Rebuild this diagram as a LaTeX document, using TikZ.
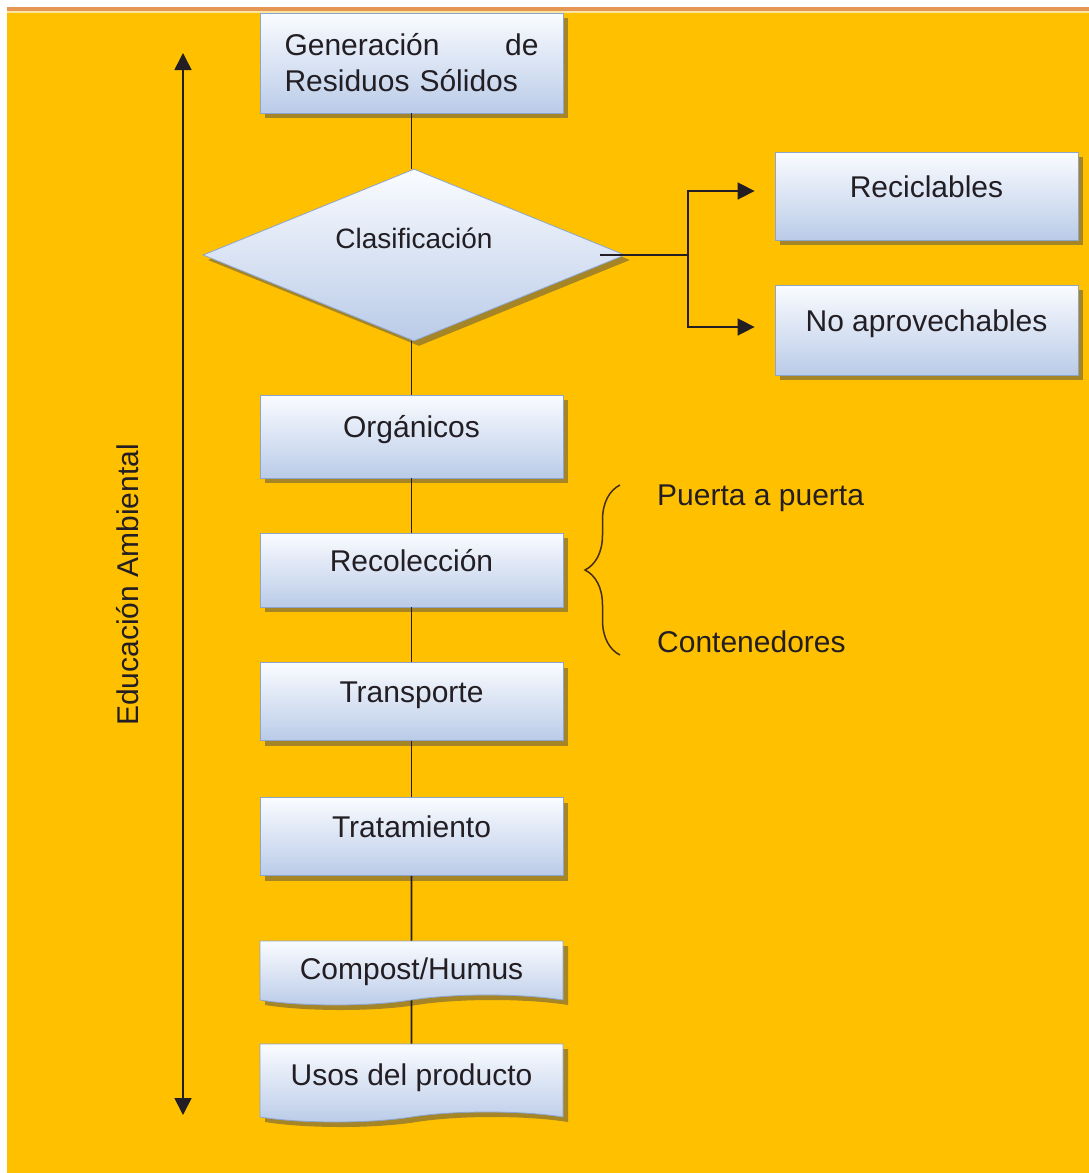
\documentclass[tikz,border=0pt]{standalone}
\usepackage{fontspec}
\setmainfont{Liberation Sans}
\usetikzlibrary{arrows.meta, shapes.geometric, shapes.symbols, shadows, decorations.pathreplacing}
\definecolor{bgyellow}{RGB}{255,192,0}
\definecolor{bandorange}{RGB}{228,150,82}
\definecolor{bandpale}{RGB}{250,228,160}
\definecolor{boxtop}{RGB}{250,252,255}
\definecolor{boxbottom}{RGB}{186,203,232}
\definecolor{boxedge}{RGB}{140,165,205}
\definecolor{inkdark}{RGB}{35,30,35}
\definecolor{bracebrown}{RGB}{70,45,20}
\tikzset{
    box/.style={rectangle, draw=boxedge, line width=0.8pt, top color=boxtop, bottom color=boxbottom, drop shadow={shadow xshift=5pt, shadow yshift=-5pt, opacity=0.5, fill=black!70}, minimum width=303pt, text=inkdark, font=\fontsize{30}{36}\selectfont},
    stepbox/.style={box, text height=22pt, text depth=20pt},
    docbox/.style={box, tape, tape bend top=none, tape bend bottom=in and out, tape bend height=10pt},
    decision/.style={diamond, aspect=2.46, inner sep=0pt, draw=boxedge, line width=0.8pt, top color=boxtop, bottom color=boxbottom, drop shadow={shadow xshift=5pt, shadow yshift=-5pt, opacity=0.5, fill=black!70}, minimum width=422pt, minimum height=172pt, text=inkdark, font=\fontsize{28}{33}\selectfont, text height=20pt, text depth=34pt},
    note/.style={anchor=base west, inner sep=0pt, text=inkdark, font=\fontsize{30}{36}\selectfont}
}

\begin{document}
\begin{tikzpicture}[
        x=1pt, y=-1pt,
        % Connector styles
        conn/.style={
            draw=inkdark,
            line width=1.6pt
        },
        line/.style={
            conn,
            -{Triangle[width=17pt, length=17pt]}
        },
        both/.style={
            conn,
            {Triangle[width=17pt, length=17pt]}-{Triangle[width=17pt, length=17pt]}
        },
        brace/.style={
            draw=bracebrown,
            line width=1.5pt,
            decorate,
            decoration={brace, amplitude=35pt}
        }
    ]
    \useasboundingbox (0,0) rectangle (1089,1173);

    % Background
    \fill[white] (0,0) rectangle (1089,1173);
    \fill[bgyellow] (7,13) rectangle (1089,1173);
    \fill[bandorange] (7,7) rectangle (1089,11);
    \fill[bandpale] (7,11) rectangle (1089,13);

    % --- MAIN FLOW ---

    \node[box, text width=254pt, align=left, minimum height=100pt] (gen) at (411.5,63) {Generación\hfill de\\Residuos Sólidos};
    \node[decision] (clas) at (414,255) {Clasificación};

    % Classes
    \node[stepbox, minimum height=88pt] (recic) at (926.5,196) {Reciclables};
    \node[stepbox, minimum height=90pt] (noap) at (926.5,330) {No aprovechables};

    % Organic branch
    \node[stepbox, minimum height=83pt] (org) at (411.5,436.5) {Orgánicos};
    \node[stepbox, minimum height=74pt] (recol) at (411.5,570) {Recolección};
    \node[stepbox, minimum height=78pt] (transp) at (411.5,701.5) {Transporte};
    \node[stepbox, minimum height=78pt] (trat) at (411.5,836.5) {Tratamiento};
    \node[docbox, minimum height=64pt, text height=22pt, text depth=0pt] (comp) at (411.5,968) {Compost/Humus};
    \node[docbox, minimum height=78pt, text height=22pt, text depth=8pt] (usos) at (411.5,1078) {Usos del producto};

    % Vertical flow
    \draw[conn] (gen) -- (gen |- clas.north);
    \draw[conn] (org |- clas.south) -- (org);
    \draw[conn] (org) -- (recol);
    \draw[conn] (recol) -- (transp);
    \draw[conn] (transp) -- (trat);
    \draw[conn] (trat) -- (comp);
    \draw[conn] (comp) -- (usos);

    % Split to the classes
    \coordinate (split) at (688,255);
    \draw[conn] ([xshift=-25pt]clas.east) -- (split);
    \draw[line, shorten >=20pt] (split) |- ([yshift=5pt]recic.west);
    \draw[line, shorten >=20pt] (split) |- ([yshift=3pt]noap.west);

    % Collection options
    \node[note] (puerta) at (657,505) {Puerta a puerta};
    \node[note] (conten) at (657,652) {Contenedores};
    \draw[brace] (620,655) -- (620,485);

    % Environmental education
    \coordinate (eduTop) at (183,53);
    \coordinate (eduBot) at (183,1115);
    \draw[both] (eduTop) -- (eduBot);
    \node[text=inkdark, font=\fontsize{30}{36}\selectfont, rotate=90] (edu) at (128,585) {Educación Ambiental};

\end{tikzpicture}
\end{document}
